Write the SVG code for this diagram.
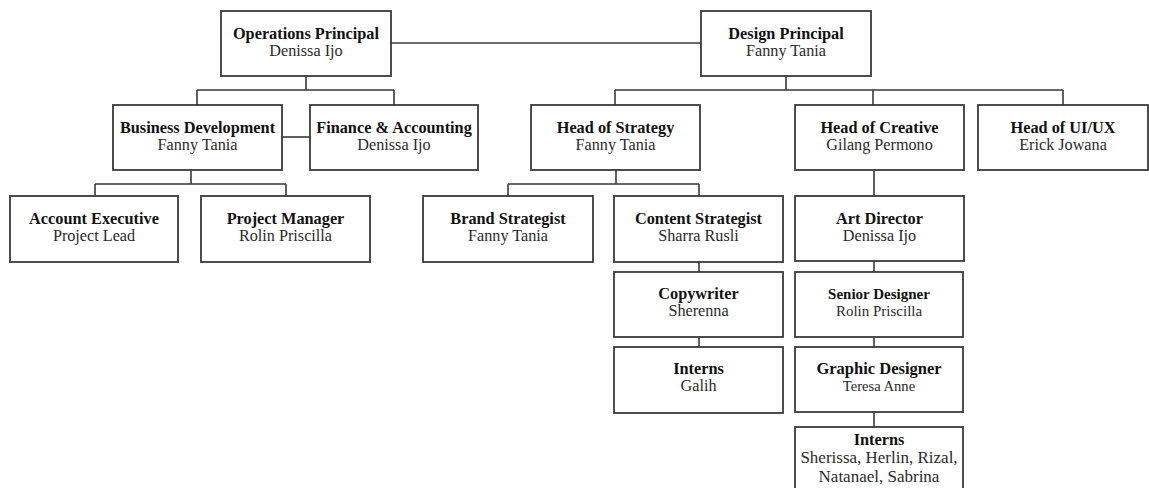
<svg xmlns="http://www.w3.org/2000/svg" width="1149" height="488" viewBox="0 0 1149 488">
<style>
.box{fill:#fff;stroke:#3a3a3a;stroke-width:1.8}
.t{font-family:"Liberation Serif","Times New Roman",serif;font-size:16.3px;font-weight:bold;fill:#111;text-anchor:middle}
.n{font-family:"Liberation Serif","Times New Roman",serif;font-size:16.2px;fill:#2a2a2a;text-anchor:middle}
#connectors path{fill:none;stroke:#3a3a3a;stroke-width:1.6}
</style>
<rect width="1149" height="488" fill="#fff"/>
<g id="connectors">
<path d="M391 43H701"/>
<path d="M306 76V90M197 90H394M197 90V105M394 90V105"/>
<path d="M282 137H310"/>
<path d="M191 170V184M95 184H286M95 184V196M286 184V196"/>
<path d="M786 76V90M615 90H1063M615 90V105M873 90V105M1063 90V105"/>
<path d="M616 170V184M508 184H699M508 184V196M699 184V196"/>
<path d="M699 262V272M699 337V347"/>
<path d="M874 170V196M874 261V272M874 337V347M874 412V427"/>
</g>
<g id="ops"><rect class="box" x="221" y="11" width="170" height="65"/><text class="t" x="306" y="39">Operations Principal</text><text class="n" x="306" y="56">Denissa Ijo</text></g>
<g id="design"><rect class="box" x="701" y="11" width="170" height="65"/><text class="t" x="786" y="39">Design Principal</text><text class="n" x="786" y="56">Fanny Tania</text></g>
<g id="bizdev"><rect class="box" x="113" y="105" width="169" height="65"/><text class="t" x="197.5" y="133">Business Development</text><text class="n" x="197.5" y="150">Fanny Tania</text></g>
<g id="finance"><rect class="box" x="310" y="105" width="168" height="65"/><text class="t" x="394" y="133">Finance &amp; Accounting</text><text class="n" x="394" y="150">Denissa Ijo</text></g>
<g id="strategy"><rect class="box" x="531" y="105" width="169" height="65"/><text class="t" x="615.5" y="133">Head of Strategy</text><text class="n" x="615.5" y="150">Fanny Tania</text></g>
<g id="creative"><rect class="box" x="795" y="105" width="169" height="65"/><text class="t" x="879.5" y="133">Head of Creative</text><text class="n" x="879.5" y="150">Gilang Permono</text></g>
<g id="uiux"><rect class="box" x="978" y="105" width="170" height="65"/><text class="t" x="1063" y="133">Head of UI/UX</text><text class="n" x="1063" y="150">Erick Jowana</text></g>
<g id="account"><rect class="box" x="10" y="196" width="168" height="66"/><text class="t" x="94" y="224">Account Executive</text><text class="n" x="94" y="241">Project Lead</text></g>
<g id="pm"><rect class="box" x="201" y="196" width="169" height="66"/><text class="t" x="285.5" y="224">Project Manager</text><text class="n" x="285.5" y="241">Rolin Priscilla</text></g>
<g id="brand"><rect class="box" x="423" y="196" width="170" height="66"/><text class="t" x="508" y="224">Brand Strategist</text><text class="n" x="508" y="241">Fanny Tania</text></g>
<g id="content"><rect class="box" x="614" y="196" width="169" height="66"/><text class="t" x="698.5" y="224">Content Strategist</text><text class="n" x="698.5" y="241">Sharra Rusli</text></g>
<g id="art"><rect class="box" x="795" y="196" width="169" height="65"/><text class="t" x="879.5" y="224">Art Director</text><text class="n" x="879.5" y="241">Denissa Ijo</text></g>
<g id="copy"><rect class="box" x="614" y="272" width="169" height="65"/><text class="t" x="698.5" y="299">Copywriter</text><text class="n" x="698.5" y="316">Sherenna</text></g>
<g id="interns1"><rect class="box" x="614" y="347" width="169" height="66"/><text class="t" x="698.5" y="374">Interns</text><text class="n" x="698.5" y="391">Galih</text></g>
<g id="senior"><rect class="box" x="795" y="272" width="168" height="65"/><text class="t" x="879" y="299" style="font-size:15px">Senior Designer</text><text class="n" x="879" y="316" style="font-size:15px">Rolin Priscilla</text></g>
<g id="graphic"><rect class="box" x="795" y="347" width="168" height="65"/><text class="t" x="879" y="374" style="font-size:16.5px">Graphic Designer</text><text class="n" x="879" y="391" style="font-size:14.6px">Teresa Anne</text></g>
<g id="interns2"><rect class="box" x="795" y="427" width="168" height="70"/><text class="t" x="879" y="445">Interns</text><text class="n" x="879" y="463" style="font-size:17px">Sherissa, Herlin, Rizal,</text><text class="n" x="879" y="482" style="font-size:17px">Natanael, Sabrina</text></g>
</svg>
